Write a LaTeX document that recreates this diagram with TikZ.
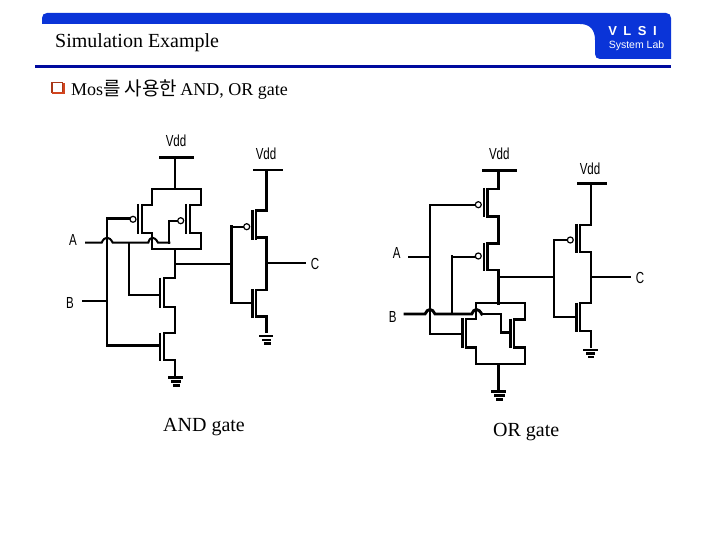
\documentclass[tikz,border=0pt]{standalone}
\usepackage{fontspec}
\setmainfont{Liberation Serif}
\newfontfamily\krfont{Noto Sans CJK KR}
\newfontfamily\lblfont{Liberation Sans}
\definecolor{barblue}{HTML}{0A34D8}
\definecolor{ruleblue}{HTML}{000A9E}
\definecolor{boxred}{HTML}{D2451E}
\tikzset{
	wire/.style={line width=2pt, line cap=rect},
	wirebold/.style={line width=2.9pt, line cap=rect},
	gatebar/.style={line width=2.2pt},
	lbl/.style={font=\lblfont\fontsize{16}{16}\selectfont, inner sep=0pt, xscale=0.72, transform shape},
	txt/.style={font=\fontsize{20}{20}\selectfont, inner sep=0pt, anchor=west},
	bubble/.style={draw, line width=1.2pt, fill=white}
}
\begin{document}
\begin{tikzpicture}[x=1pt, y=-1pt]
	\useasboundingbox (0, 0) rectangle (720, 540);
	
	%%%%% HEADER %%%%%
	\fill[barblue] (42, 24) -- (42, 18) .. controls (42, 15) and (44, 13) .. (47, 13)
		-- (666, 13) .. controls (669, 13) and (671, 15) .. (671, 18)
		-- (671, 59) -- (600, 59) .. controls (597, 59) and (595, 57) .. (595, 54)
		-- (595, 40) .. controls (595, 30) and (590, 24) .. (580, 24) -- cycle;
	\fill[ruleblue] (35, 65.5) rectangle (671, 68);
	\node[txt] (title) at (55, 43) {Simulation Example};
	\node[font=\lblfont\bfseries\fontsize{13}{13}\selectfont, text=white, inner sep=0pt] (vlsi) at (632.5, 31) {V\,\,\,L\,\,\,S\,\,\,I};
	\node[font=\lblfont\fontsize{10.5}{10.5}\selectfont, text=white, inner sep=0pt] (syslab) at (636.5, 46) {System Lab};
	
	\draw[line width=1.4pt, boxred!80!black, fill=white] (52, 82.5) rectangle (62.5, 92.5);
	\draw[line width=2pt, boxred] (52, 93.5) -- (63.5, 93.5) -- (63.5, 83);
	\node[txt, font=\fontsize{18}{18}\selectfont] (topic) at (71, 90) {Mos{\krfont\fontsize{19}{19}\selectfont 를 사용한}\kern3pt AND, OR gate};
	
	%%%%% AND GATE %%%%%
	\node[lbl] (vddA) at (176, 140.5) {Vdd};
	\draw[wirebold] (160, 157.3) -- (192.5, 157.3);
	\draw[wire] (175, 157.3) -- (175, 189);
	\draw[wire] (152, 205) -- (152, 189) -- (201.3, 189) -- (201.3, 205);
	
	\draw[wire] (152, 205) -- (141.7, 205);
	\draw[gatebar] (141.7, 204) -- (141.7, 234);
	\draw[gatebar] (138, 204) -- (138, 234);
	\draw[wire] (141.7, 233) -- (152, 233) -- (152, 249.3) -- (201.3, 249.3) -- (201.3, 233) -- (190, 233);
	\draw[wire] (201.3, 205) -- (190, 205);
	\draw[gatebar] (190, 204) -- (190, 234);
	\draw[gatebar] (186.3, 204) -- (186.3, 234);
	
	\draw[wirebold] (130, 218.3) -- (107, 218.3);
	\draw[wire] (107, 218.3) -- (107, 345.7);
	\draw[bubble] (133, 219.3) circle (3);
	\draw[wire] (177.9, 220.7) -- (169.3, 220.7) -- (169.3, 242.7);
	\draw[bubble] (180.7, 220.7) circle (3);
	
	\node[lbl] (inA) at (73, 239.5) {A};
	\draw[wire] (86, 242.7) -- (101.7, 242.7) .. controls (104.5, 236) and (109.5, 236) .. (112.7, 242.7)
		-- (148.3, 242.7) .. controls (150, 236) and (154.5, 236) .. (158, 242.7) -- (169.3, 242.7);
	\draw[wire] (128.7, 242.7) -- (128.7, 294.7) -- (160, 294.7);
	
	\node[lbl] (inB) at (70, 302.7) {B};
	\draw[wire] (82.7, 301) -- (107, 301);
	\draw[wirebold] (107, 345.7) -- (160, 345.7);
	
	\draw[wire] (175, 249.3) -- (175, 278.3) -- (164, 278.3);
	\draw[gatebar] (164, 277.5) -- (164, 307.5);
	\draw[gatebar] (160.3, 277.5) -- (160.3, 307.5);
	\draw[wire] (164, 306.7) -- (175, 306.7) -- (175, 333.3) -- (164, 333.3);
	\draw[gatebar] (164, 332.5) -- (164, 361);
	\draw[gatebar] (160.3, 332.5) -- (160.3, 361);
	\draw[wire] (164, 360) -- (175, 360) -- (175, 377);
	\draw[wirebold] (169, 377.5) -- (182, 377.5);
	\draw[wirebold] (172, 381.5) -- (180, 381.5);
	\draw[wirebold] (174.5, 385.5) -- (179, 385.5);
	
	\draw[wire] (175, 263.7) -- (231.7, 263.7);
	\draw[wirebold] (231.7, 226.7) -- (231.7, 302.7);
	\draw[wire] (231.7, 226.7) -- (244, 226.7);
	\draw[wire] (231.7, 302.7) -- (252.7, 302.7);
	\draw[bubble] (246.7, 226.7) circle (3);
	
	\node[lbl] (vddB) at (266, 154) {Vdd};
	\draw[wire] (254, 170) -- (281.7, 170);
	\draw[wirebold] (266.7, 170) -- (266.7, 210.7) -- (256, 210.7);
	\draw[gatebar] (256.2, 210) -- (256.2, 239.5);
	\draw[gatebar] (252.5, 210) -- (252.5, 239.5);
	\draw[wirebold] (256, 237.7) -- (266.7, 237.7) -- (266.7, 290) -- (256, 290);
	\draw[gatebar] (256.2, 289) -- (256.2, 317.5);
	\draw[gatebar] (252.5, 289) -- (252.5, 317.5);
	\draw[wirebold] (256, 316.7) -- (266.7, 316.7) -- (266.7, 331.7);
	\draw[wirebold] (260, 336) -- (271.7, 336);
	\draw[wirebold] (263, 340) -- (270, 340);
	\draw[wirebold] (265, 343.5) -- (269.5, 343.5);
	\draw[wire] (266.7, 262.7) -- (305, 262.7);
	\node[lbl] (outC) at (315, 264) {C};
	
	\node[txt] (andlbl) at (163, 427) {AND gate};
	
	%%%%% OR GATE %%%%%
	\node[lbl] (vddC) at (499.3, 154) {Vdd};
	\draw[wirebold] (483.3, 170.7) -- (515.7, 170.7);
	\draw[wirebold] (498.3, 170.7) -- (498.3, 189) -- (487.3, 189);
	\draw[gatebar] (487.5, 188) -- (487.5, 217.5);
	\draw[gatebar] (483.8, 188) -- (483.8, 217.5);
	\draw[wirebold] (487.3, 216.7) -- (498.3, 216.7) -- (498.3, 243.3) -- (487.3, 243.3);
	\draw[gatebar] (487.5, 242.5) -- (487.5, 271);
	\draw[gatebar] (483.8, 242.5) -- (483.8, 271);
	\draw[wirebold] (487.3, 270) -- (498.3, 270) -- (498.3, 303.3);
	
	\draw[wire] (475.5, 204.7) -- (430, 204.7) -- (430, 334.3) -- (461.7, 334.3);
	\draw[bubble] (478.3, 204.7) circle (3);
	\node[lbl] (inC) at (396.7, 253.3) {A};
	\draw[wire] (409.3, 256.7) -- (430, 256.7);
	\draw[wire] (475.5, 256.7) -- (452, 256.7);
	\draw[wirebold] (452, 256.7) -- (452, 314);
	\draw[bubble] (478.3, 256) circle (3);
	
	\node[lbl] (inD) at (392.7, 316.7) {B};
	\draw[wirebold] (405, 314) -- (425, 314) .. controls (427.5, 308) and (432.5, 308) .. (435, 314)
		-- (471.7, 314) .. controls (474, 308) and (478.5, 308) .. (481.7, 314);
	\draw[wire] (481.7, 314) -- (501, 314);
	\draw[wirebold] (501, 314) -- (501, 332.7) -- (509, 332.7);
	
	\draw[wire] (476, 319) -- (476, 303.3) -- (525, 303.3);
	\draw[wirebold] (476, 319) -- (466, 319);
	\draw[gatebar] (466.2, 318) -- (466.2, 348);
	\draw[gatebar] (462.5, 318) -- (462.5, 348);
	\draw[wirebold] (466, 347.3) -- (476, 347.3);
	\draw[wire] (476, 347.3) -- (476, 364) -- (525, 364);
	\draw[wirebold] (525, 303.3) -- (525, 319.3) -- (514, 319.3);
	\draw[gatebar] (514.2, 318.5) -- (514.2, 348);
	\draw[gatebar] (510.5, 318.5) -- (510.5, 348);
	\draw[wirebold] (514, 347.3) -- (525, 347.3) -- (525, 364);
	
	\draw[wirebold] (498.3, 364) -- (498.3, 389);
	\draw[wirebold] (492.7, 391.7) -- (505, 391.7);
	\draw[wirebold] (495, 395.7) -- (503.5, 395.7);
	\draw[wirebold] (497.5, 399.3) -- (502, 399.3);
	
	\draw[wire] (498.3, 277.3) -- (554.3, 277.3);
	\draw[wire] (554.3, 240) -- (554.3, 316.7) -- (576.7, 316.7);
	\draw[wire] (554.3, 240) -- (567.5, 240);
	\draw[bubble] (570.3, 240) circle (3);
	
	\node[lbl] (vddD) at (590, 168.3) {Vdd};
	\draw[wirebold] (578.3, 183.3) -- (605.7, 183.3);
	\draw[wire] (591, 183.3) -- (591, 225) -- (580, 225);
	\draw[gatebar] (580.2, 224) -- (580.2, 252.5);
	\draw[gatebar] (576.5, 224) -- (576.5, 252.5);
	\draw[wire] (580, 251.7) -- (591, 251.7) -- (591, 303.3) -- (580, 303.3);
	\draw[gatebar] (580.2, 302.5) -- (580.2, 332);
	\draw[gatebar] (576.5, 302.5) -- (576.5, 332);
	\draw[wire] (580, 331.3) -- (591, 331.3) -- (591, 346.7);
	\draw[wirebold] (584.3, 350) -- (596.7, 350);
	\draw[wirebold] (587, 353.5) -- (594, 353.5);
	\draw[wirebold] (589, 357) -- (593, 357);
	\draw[wire] (591, 276.7) -- (630, 276.7);
	\node[lbl] (outD) at (640, 278) {C};
	
	\node[txt] (orlbl) at (493, 432) {OR gate};
	
	%%%%% END %%%%%
\end{tikzpicture}
\end{document}
